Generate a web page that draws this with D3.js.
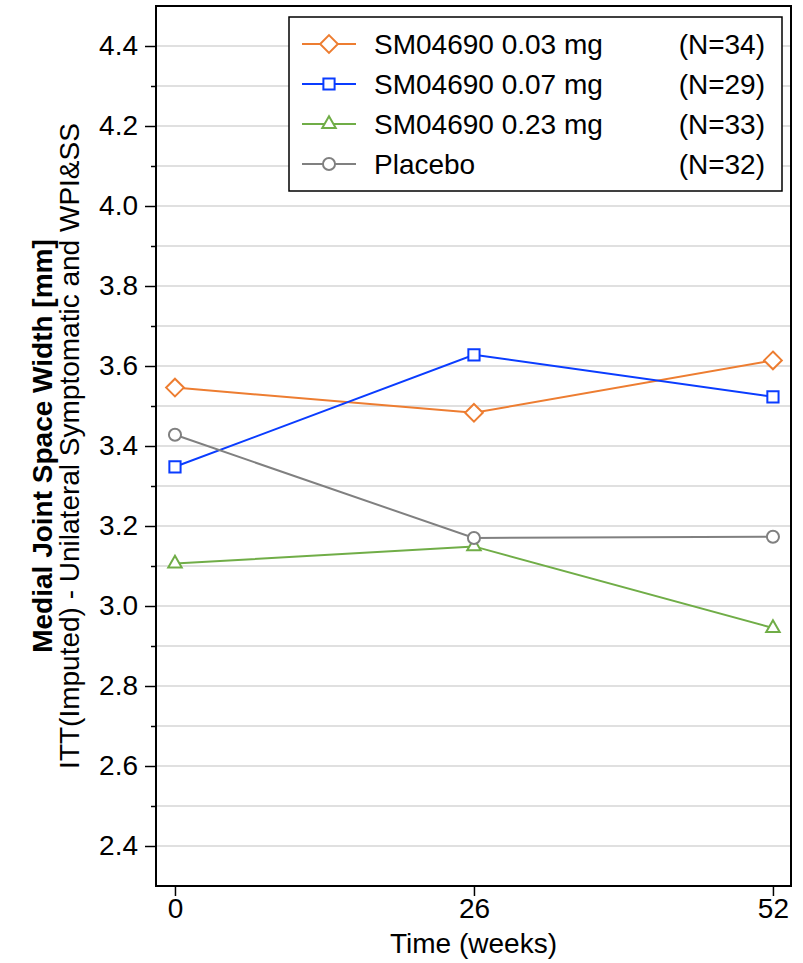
<!DOCTYPE html>
<html>
<head>
<meta charset="utf-8">
<script src="https://cdn.jsdelivr.net/npm/d3@7"></script>
<style>
  body { margin: 0; background: #fff; }
  svg text { font-family: "Liberation Sans", Arial, sans-serif; fill: #000; }
</style>
</head>
<body>
<div id="chart"></div>
<script>
// Data
const weeks = [0, 26, 52];
const groupNames = ["SM04690 0.03 mg", "SM04690 0.07 mg", "SM04690 0.23 mg", "Placebo"];
const groupN = ["(N=34)", "(N=29)", "(N=33)", "(N=32)"];
const dose003 = [3.546, 3.483, 3.614];
const dose007 = [3.348, 3.628, 3.523];
const dose023 = [3.106, 3.149, 2.945];
const placebo = [3.428, 3.170, 3.173];
const yTicks = [2.4, 2.6, 2.8, 3.0, 3.2, 3.4, 3.6, 3.8, 4.0, 4.2, 4.4];

const width = 803, height = 963;
const colors = ["#ed7d31", "#0a3cff", "#70ad47", "#808080"];
const symbols = [d3.symbolDiamond2, d3.symbolSquare2, d3.symbolTriangle2, d3.symbolCircle];
const symSize = [200, 160, 130, 115];

const series = [dose003, dose007, dose023, placebo].map((vals, i) => ({
    name: groupNames[i], n: groupN[i], color: colors[i], symbol: symbols[i], size: symSize[i],
    values: vals.map((v, j) => ({ week: weeks[j], value: v }))
}));

const svg = d3.select("#chart").append("svg")
    .attr("width", width)
    .attr("height", height);

// Scales
const x = d3.scaleLinear().domain([-1.65, 53.57]).range([156, 791]);
const y = d3.scaleLinear().domain([2.3, 4.5]).range([886, 6]);

// Gridlines every 0.1
const gridVals = d3.range(24, 45).map(d => d / 10);
svg.append("g")
    .selectAll("line")
    .data(gridVals)
    .enter()
    .append("line")
    .attr("x1", x.range()[0])
    .attr("x2", x.range()[1])
    .attr("y1", d => y(d))
    .attr("y2", d => y(d))
    .attr("stroke", "#e0e0e0")
    .attr("stroke-width", 2);

// Y axis with major and minor ticks
const minorVals = d3.range(25, 44, 2).map(d => d / 10);
svg.append("g")
    .attr("transform", `translate(${x.range()[0]},0)`)
    .call(d3.axisLeft(y).tickValues(minorVals).tickSize(5).tickFormat(""))
    .call(g => g.select(".domain").remove())
    .selectAll("line").attr("stroke-width", 1.5);

const yAxis = svg.append("g")
    .attr("transform", `translate(${x.range()[0]},0)`)
    .call(d3.axisLeft(y).tickValues(yTicks).tickSize(11).tickPadding(7).tickFormat(d3.format(".1f")));
yAxis.select(".domain").remove();
yAxis.selectAll("line").attr("stroke-width", 1.5);
yAxis.selectAll("text").style("font-size", "28px").style("font-family", "Liberation Sans, Arial, sans-serif");

// X axis
const xAxis = svg.append("g")
    .attr("transform", `translate(0,${y.range()[0]})`)
    .call(d3.axisBottom(x).tickValues(weeks).tickSize(10).tickPadding(2).tickFormat(d3.format("d")));
xAxis.select(".domain").remove();
xAxis.selectAll("line").attr("stroke-width", 1.5);
xAxis.selectAll("text").style("font-size", "28px").style("font-family", "Liberation Sans, Arial, sans-serif");

// Plot frame
svg.append("rect")
    .attr("x", x.range()[0])
    .attr("y", y.range()[1])
    .attr("width", x.range()[1] - x.range()[0])
    .attr("height", y.range()[0] - y.range()[1])
    .attr("fill", "none")
    .attr("stroke", "#000")
    .attr("stroke-width", 2);

// Axis titles
svg.append("text")
    .attr("x", (x.range()[0] + x.range()[1]) / 2)
    .attr("y", 953)
    .attr("text-anchor", "middle")
    .style("font-size", "28px")
    .text("Time (weeks)");

const yMid = (y.range()[0] + y.range()[1]) / 2;
svg.append("text")
    .attr("transform", `translate(52,${yMid}) rotate(-90)`)
    .attr("text-anchor", "middle")
    .style("font-size", "28px")
    .style("font-weight", "bold")
    .text("Medial Joint Space Width [mm]");

svg.append("text")
    .attr("transform", `translate(79,${yMid}) rotate(-90)`)
    .attr("text-anchor", "middle")
    .style("font-size", "28px")
    .text("ITT(Imputed) - Unilateral Symptomatic and WPI&SS");

// Lines and markers
const line = d3.line()
    .x(d => x(d.week))
    .y(d => y(d.value));

series.forEach(s => {
    const g = svg.append("g");
    g.append("path")
        .datum(s.values)
        .attr("fill", "none")
        .attr("stroke", s.color)
        .attr("stroke-width", 2)
        .attr("d", line);
    g.selectAll("path.marker")
        .data(s.values)
        .enter()
        .append("path")
        .attr("class", "marker")
        .attr("transform", d => `translate(${x(d.week)},${y(d.value)})`)
        .attr("d", d3.symbol().type(s.symbol).size(s.size))
        .attr("fill", "#fff")
        .attr("stroke", s.color)
        .attr("stroke-width", 2);
});

// Legend
const legend = svg.append("g");
legend.append("rect")
    .attr("x", 289)
    .attr("y", 17)
    .attr("width", 493)
    .attr("height", 174)
    .attr("fill", "#fff")
    .attr("stroke", "#000")
    .attr("stroke-width", 1.5);

series.forEach((s, i) => {
    const cy = 44 + i * 40;
    legend.append("line")
        .attr("x1", 302)
        .attr("x2", 356)
        .attr("y1", cy)
        .attr("y2", cy)
        .attr("stroke", s.color)
        .attr("stroke-width", 2);
    legend.append("path")
        .attr("transform", `translate(329,${cy})`)
        .attr("d", d3.symbol().type(s.symbol).size(s.size))
        .attr("fill", "#fff")
        .attr("stroke", s.color)
        .attr("stroke-width", 2);
    legend.append("text")
        .attr("x", 374)
        .attr("y", cy + 10)
        .style("font-size", "28px")
        .text(s.name);
    legend.append("text")
        .attr("x", 765)
        .attr("y", cy + 10)
        .attr("text-anchor", "end")
        .style("font-size", "28px")
        .text(s.n);
});
</script>
</body>
</html>
